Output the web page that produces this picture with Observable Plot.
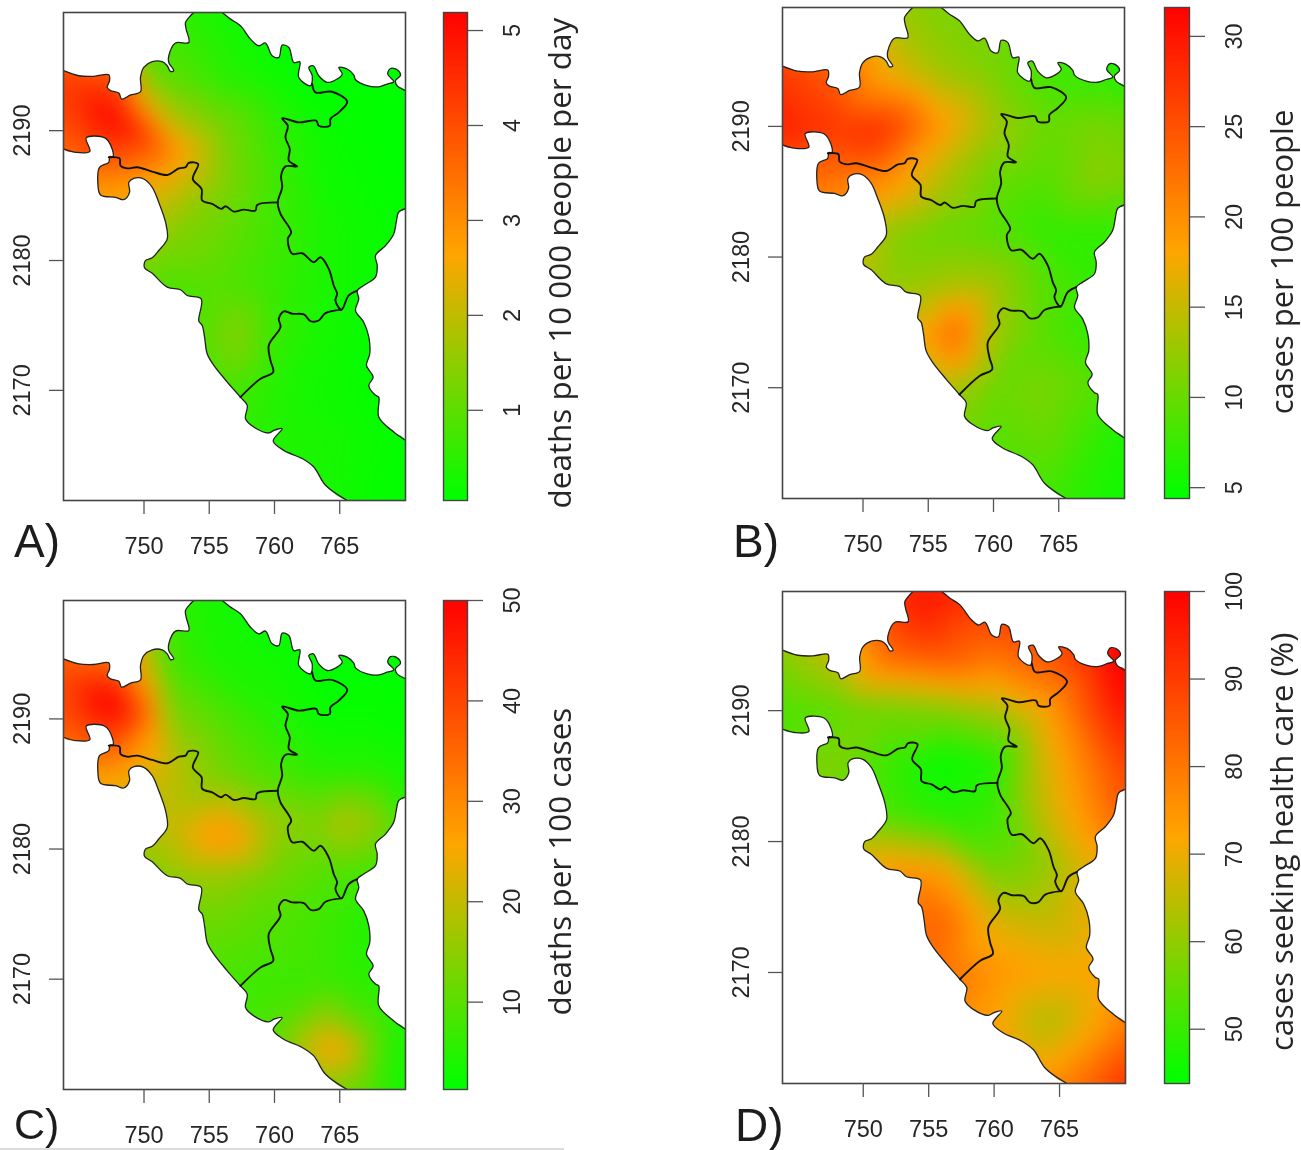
<!DOCTYPE html>
<html><head><meta charset="utf-8">
<script src="https://cdn.jsdelivr.net/npm/d3@7"></script>
<script src="https://cdn.jsdelivr.net/npm/@observablehq/plot@0.6"></script>
<style>
html,body{margin:0;padding:0;background:#fff;overflow:hidden;width:1301px;height:1150px}
#page{position:relative;width:1301px;height:1150px;overflow:hidden;filter:blur(0.45px)}
.slot{position:absolute}
.tag{position:absolute;font-family:"Liberation Sans",sans-serif;color:#1c1c1c;line-height:1}
#rule{position:absolute;left:0;top:1148px;width:564px;height:2px;background:#dcdcdc}
</style></head><body><div id="page"><div id="rule"></div></div>
<script>
const xDomain = [743.83, 770.04];
const yDomain = [2161.52, 2199.1];
const xTicks = [750, 755, 760, 765];
const yTicks = [2170, 2180, 2190];

const coastX = [743.83,745.00,746.15,747.30,747.36,747.18,747.43,748.07,748.28,748.97,749.73,749.73,749.98,750.63,751.39,751.78,752.03,752.28,751.90,751.90,752.41,753.43,753.23,753.18,753.56,753.82,755.99,756.63,757.39,758.16,758.80,759.31,759.82,760.33,760.59,761.10,761.48,761.94,761.86,762.76,762.89,762.63,762.97,763.39,764.04,764.80,765.19,764.93,765.57,766.08,766.21,767.10,767.99,768.64,769.14,768.68,768.89,769.40,769.66,769.27,769.40,770.04,770.04,769.52,769.33,769.14,768.51,767.74,767.87,767.74,766.84,766.34,766.46,766.21,766.84,767.23,767.30,767.05,767.56,767.23,767.74,767.99,767.99,769.14,770.04,770.04,765.57,763.91,763.01,762.12,760.71,759.90,760.59,759.95,759.56,758.41,757.78,757.91,757.39,756.38,755.35,754.84,754.64,754.46,754.20,754.38,753.31,752.80,751.78,750.63,750.04,750.11,750.63,751.13,751.78,751.65,751.13,750.63,749.98,749.22,748.84,748.89,748.45,747.82,746.67,746.46,746.59,747.30,747.38,747.61,747.56,747.00,745.57,745.85,744.75,743.83];
const coastY = [2194.62,2194.23,2194.18,2194.31,2193.85,2193.33,2193.08,2192.90,2192.44,2192.75,2193.00,2194.10,2194.87,2195.31,2195.31,2195.00,2194.56,2194.62,2195.25,2195.77,2196.75,2196.79,2197.82,2198.33,2198.85,2199.10,2199.10,2198.59,2198.08,2197.05,2196.54,2196.75,2195.77,2195.64,2196.59,2196.41,2195.25,2195.31,2194.10,2193.46,2194.23,2194.87,2195.00,2194.23,2193.72,2193.98,2194.36,2194.87,2194.75,2194.28,2193.92,2193.46,2193.38,2193.59,2193.77,2194.36,2194.79,2194.69,2194.28,2193.85,2193.46,2193.08,2184.00,2183.72,2182.95,2182.05,2181.15,2180.38,2179.62,2178.72,2178.08,2177.69,2177.05,2176.15,2175.25,2174.10,2172.82,2171.92,2171.02,2170.38,2169.62,2169.48,2167.95,2166.79,2166.15,2161.52,2161.52,2162.69,2164.10,2164.75,2165.38,2166.10,2167.05,2166.92,2166.72,2167.18,2167.82,2168.85,2169.48,2170.64,2171.92,2172.82,2174.10,2175.00,2175.33,2177.05,2177.31,2177.75,2177.95,2179.02,2179.44,2180.00,2180.21,2180.77,2181.67,2182.95,2184.48,2185.64,2186.28,2186.33,2186.02,2185.25,2184.69,2184.87,2185.05,2186.02,2187.18,2187.56,2188.00,2188.00,2188.59,2189.44,2189.44,2188.41,2188.33,2188.59];

const border1X = [747.30,748.12,748.20,748.71,749.48,750.63,751.78,752.67,753.18,753.43,754.15,753.74,754.41,754.46,755.23,755.92,756.25,756.88,757.65,758.54,758.67,760.25];
const border1Y = [2187.95,2187.87,2187.31,2187.10,2187.18,2186.85,2186.59,2187.10,2187.18,2187.52,2187.44,2186.28,2185.52,2184.62,2184.36,2183.98,2184.18,2183.77,2183.92,2183.85,2184.28,2184.48];
const border2X = [762.89,763.14,764.42,765.57,764.93,764.29,764.24,763.39,763.20,761.86,760.59,761.02,760.84,761.17,761.10,761.74,760.84,760.51,760.59,760.25,760.46,761.28,761.02,761.36,762.12,763.01,763.52,764.16,764.54,764.80,764.67,765.13,765.69,766.34];
const border2Y = [2193.59,2192.95,2193.00,2192.23,2191.41,2190.90,2190.38,2190.38,2190.77,2190.64,2190.95,2190.38,2189.48,2188.59,2187.69,2187.25,2187.25,2186.54,2185.64,2184.48,2183.59,2182.18,2181.67,2180.52,2180.56,2179.87,2180.25,2179.36,2178.08,2177.44,2176.92,2176.21,2177.31,2177.69];
const border3X = [765.13,763.91,763.39,762.76,762.25,761.36,760.71,760.33,760.46,759.56,759.69,759.90,758.93,757.39];
const border3Y = [2176.21,2175.95,2175.38,2175.33,2175.85,2175.90,2176.08,2175.52,2174.87,2173.46,2172.31,2171.41,2170.90,2169.48];

// value grid: one row per northing, one value per easting
const gridX = [743.8,748,752,756,760,764,768,770.1];
const gridY = [2199.1,2194,2190,2186,2182,2178,2174,2170,2166,2161.5];

const deathsPerPop = [
 [3.0,2.0,.5,.25,.1,.05,.05,.05],
 [4.2,4.0,1.0,.5,.2,.05,.05,.05],
 [3.9,4.8,2.4,1.3,.6,.15,.05,.05],
 [3.0,3.0,2.3,1.4,.7,.2,.1,.05],
 [2.0,2.0,1.4,1.1,.7,.3,.15,.1],
 [1.0,1.0,.8,.9,.6,.3,.15,.1],
 [.6,.6,.8,1.1,.6,.25,.1,.05],
 [.4,.4,.6,.8,.4,.2,.1,.05],
 [.3,.3,.4,.4,.4,.3,.15,.05],
 [.3,.3,.3,.3,.3,.3,.1,.05]];
const deathsPerPopPeaks = [[747.8,2190.9,5.19],[749.7,2189.85,4.5],[751.3,2188.6,3.6],[752.6,2188.6,2.8],[752.4,2190.8,1.8],[750.5,2192.5,2.0],[750.5,2194.6,.9],[756.7,2174,1.5]];

const casesPerPop = [
 [20,16,13,11,11,9,7,6],
 [27,24,17,13,11,8,7,6],
 [29,27,27,19,13,10,11,10],
 [24,22,20,14,10,9,12,11],
 [18,18,12,10,9,7,7,7],
 [14,13,12,13,13,9,7,6],
 [12,11,16,20,13,9,7,6],
 [10,10,13,14,10,11,9,7],
 [9,9,10,9,9,10,7,5.5],
 [8,8,8,8,8,8,6,5]];
const casesPerPopPeaks = [[751,2189.3,28],[756.6,2174,24]];

const deathsPerCase = [
 [25,20,6,3,2,1.5,1.5,1.5],
 [38,36,8,4,3,1.5,1.5,1.5],
 [38,46,14,9,5,2,2,1.5],
 [28,28,20,12,8,5,5,3],
 [18,18,20,26,16,13,15,7],
 [12,12,15,16,12,9,7,4],
 [8,8,11,11,9,7,4,2],
 [7,7,9,8,7,7,5,2],
 [6,6,7,7,10,20,9,3],
 [5,5,6,6,9,14,7,2]];
const deathsPerCasePeaks = [[747.6,2191,52],[749.8,2190.5,38],[751,2189.5,27],[756.3,2181,29],[764.5,2182,19],[764.7,2165,27]];

const careSeeking = [
 [62,75,92,95,93,85,90,95],
 [58,65,82,85,80,85,94,100],
 [52,54,56,58,62,72,90,97],
 [55,58,50,44,47,68,82,90],
 [58,55,52,48,50,66,78,85],
 [66,66,72,72,56,60,70,75],
 [70,74,80,83,68,65,70,75],
 [72,74,80,81,75,72,72,75],
 [72,75,78,78,72,63,72,80],
 [75,78,80,80,78,75,85,92]];
const careSeekingPeaks = [[755,2198,97],[768.9,2194.2,100],[751.3,2179.1,69],[752.8,2177.8,75]];

const panels = [
 {tag:"A)",tagSize:46,tagX:14,tagY:518,left:63,top:12,w:342,h:488,grid:deathsPerPop,peaks:deathsPerPopPeaks,barLeft:443,barW:24,dom:[.05,5.19],ticks:[1,2,3,4,5],title:"deaths per 10 000 people per day",titleSize:31.4,titleMid:2.55,titleDx:93},
 {tag:"B)",tagSize:46,tagX:733,tagY:518,left:782,top:7,w:342,h:491,grid:casesPerPop,peaks:casesPerPopPeaks,barLeft:1164,barW:25,dom:[4.4,31.6],ticks:[5,10,15,20,25,30],title:"cases per 100 people",titleSize:31,titleMid:17.5,titleDx:93.5},
 {tag:"C)",tagSize:43,tagX:14,tagY:1103,left:63,top:600,w:342,h:489,grid:deathsPerCase,peaks:deathsPerCasePeaks,barLeft:443,barW:24,dom:[1.3,50],ticks:[10,20,30,40,50],title:"deaths per 100 cases",titleSize:31.4,titleMid:24,titleDx:93},
 {tag:"D)",tagSize:46,tagX:735,tagY:1102,left:782,top:591,w:343,h:492,grid:careSeeking,peaks:careSeekingPeaks,barLeft:1164,barW:25,dom:[43.8,100],ticks:[50,60,70,80,90,100],title:"cases seeking health care (%)",titleSize:31,titleMid:71.4,titleDx:93.5}
];

const tickFont = {fontFamily:"Liberation Sans, sans-serif", fontSize:23.5};
const ink = "#262626";
const smooth = "catmull-rom";
const coast = coastX.map((x,i)=>({x,y:coastY[i]}));
const zip = (xs,ys)=>xs.map((x,i)=>({x,y:ys[i]}));
const runs = [coast.slice(0,26),coast.slice(26,62),coast.slice(62,85),coast.slice(86)];
const outside = [...coast,coast[0],
  {x:xDomain[0]-4,y:yDomain[0]-4},{x:xDomain[1]+4,y:yDomain[0]-4},{x:xDomain[1]+4,y:yDomain[1]+4},{x:xDomain[0]-4,y:yDomain[1]+4},coast[0]];
const borders = [zip(border1X,border1Y),zip(border2X,border2Y),zip(border3X,border3Y)];

function colorOf(dom){
  return {type:"linear",domain:[dom[0],(dom[0]+dom[1])/2,dom[1]],range:["#00ff00","#ffa500","#ff0000"],interpolate:"rgb"};
}
function place(svg,left,top){
  const d=document.createElement("div");d.className="slot";d.style.left=left+"px";d.style.top=top+"px";
  d.append(svg);document.getElementById("page").append(d);
}
const svgStyle={background:"transparent",overflow:"visible",maxWidth:"none"};
for(const p of panels){
  const pts=[];
  p.grid.forEach((row,j)=>row.forEach((v,i)=>pts.push({x:gridX[i],y:gridY[j],v})));
  p.peaks.forEach(([x,y,v])=>pts.push({x,y,v}));
  const mL=63,mT=12,mB=60,mR=5;
  const map=Plot.plot({
    width:p.w+mL+mR,height:p.h+mT+mB,marginLeft:mL,marginTop:mT,marginBottom:mB,marginRight:mR,
    style:svgStyle,
    x:{domain:xDomain,axis:null,label:null},y:{domain:yDomain,axis:null,label:null},color:{...colorOf(p.dom),clamp:true},
    marks:[
      Plot.raster(pts,{x:"x",y:"y",fill:"v",interpolate:"barycentric",blur:10,x1:xDomain[0],x2:xDomain[1],y1:yDomain[0],y2:yDomain[1]}),
      Plot.line(outside,{x:"x",y:"y",fill:"white",stroke:"none",curve:smooth,clip:"frame"}),
      ...runs.map(r=>Plot.line(r,{x:"x",y:"y",stroke:"#222",strokeWidth:1.3,curve:smooth,clip:"frame"})),
      ...borders.map(r=>Plot.line(r,{x:"x",y:"y",stroke:"#111",strokeWidth:1.9,curve:smooth,clip:"frame"})),
      Plot.frame({stroke:"#444",strokeWidth:1.6}),
      Plot.axisX(xTicks,{anchor:"bottom",label:null,tickSize:14,tickPadding:23,stroke:"#555",strokeWidth:1.3,fill:ink,tickFormat:d=>String(d),...tickFont}),
      Plot.axisY(yTicks,{anchor:"left",label:null,tickSize:14,tickFormat:()=>"",stroke:"#555",strokeWidth:1.3}),
      Plot.text(yTicks,{x:xDomain[0],y:d=>d,text:d=>String(d),rotate:-90,dx:-41,fill:ink,...tickFont})
    ]});
  place(map,p.left-mL,p.top-mT);

  const steps=d3.range(0,200).map(i=>p.dom[0]+(p.dom[1]-p.dom[0])*i/200);
  const dy=(p.dom[1]-p.dom[0])/200;
  const bar=Plot.plot({
    width:p.barW+130,height:p.h,marginLeft:0,marginTop:0,marginBottom:0,marginRight:130,
    style:svgStyle,
    x:{domain:[0,1],axis:null},y:{domain:p.dom,axis:null,label:null},color:colorOf(p.dom),
    marks:[
      Plot.rect(steps,{x1:0,x2:1,y1:d=>d,y2:d=>d+dy*1.05,fill:d=>d,shapeRendering:"crispEdges"}),
      Plot.frame({stroke:"#444",strokeWidth:1.4}),
      Plot.axisY(p.ticks,{anchor:"right",label:null,tickSize:15,tickFormat:()=>"",stroke:"#555",strokeWidth:1.3}),
      Plot.text(p.ticks,{x:1,y:d=>d,text:d=>String(d),rotate:-90,dx:45,fill:ink,...tickFont}),
      Plot.text([p.title],{x:1,y:()=>p.titleMid,text:d=>d,rotate:-90,dx:p.titleDx,fill:ink,fontFamily:"Open Sans, sans-serif",fontSize:p.titleSize})
    ]});
  place(bar,p.barLeft,p.top);

  const t=document.createElement("div");t.className="tag";t.textContent=p.tag;t.style.fontSize=p.tagSize+"px";t.style.left=p.tagX+"px";t.style.top=p.tagY+"px";
  document.getElementById("page").append(t);
}
</script></body></html>
